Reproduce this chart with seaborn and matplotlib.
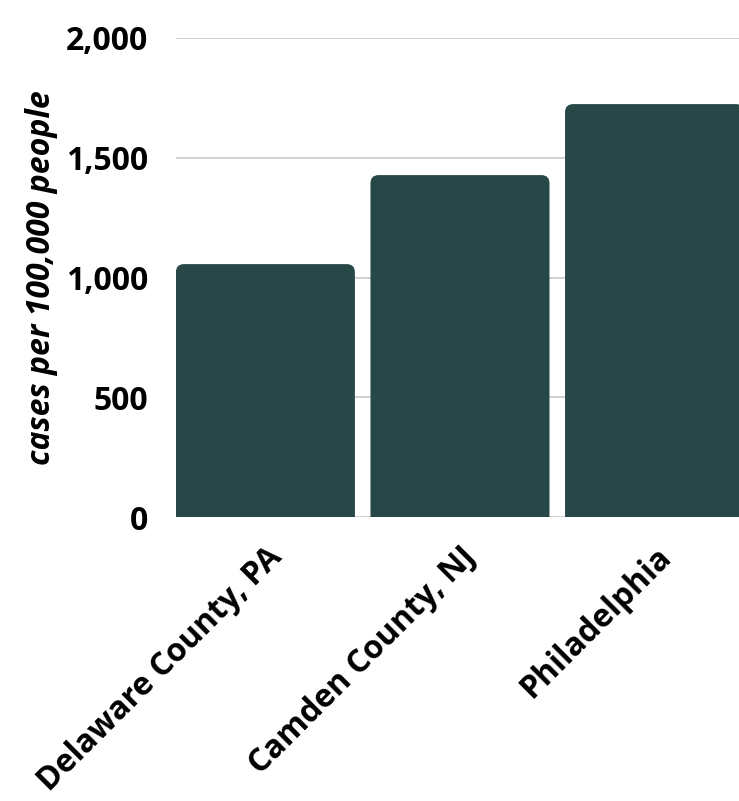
import numpy as np
import pandas as pd
import matplotlib
matplotlib.use('Agg')
import matplotlib.pyplot as plt
import matplotlib.transforms as mtransforms
from matplotlib.patches import FancyBboxPatch
import seaborn as sns

# данные
counties = ['Delaware County, PA', 'Camden County, NJ', 'Philadelphia']
cases = [1056, 1427, 1723]
y_ticks = [0, 500, 1000, 1500, 2000]
y_tick_labels = ['0', '500', '1,000', '1,500', '2,000']

bar_color = '#284848'

sns.set_theme(style='white')
plt.rcParams['font.family'] = ['Open Sans', 'DejaVu Sans']

df = pd.DataFrame({'county': counties, 'cases': cases})

fig = plt.figure(figsize=(7.39, 8.01), dpi=100)
ax = fig.add_axes([0.238, 0.354, 0.762, 0.599])

sns.barplot(data=df, x='county', y='cases', color=bar_color, width=0.92,
            saturation=1, ax=ax, zorder=3)

ax.set_xlim(-0.46, 2.434)
ax.set_ylim(0, 2000)

# пикселей на единицу по осям -> аспект для скругления
px_x = 0.762 * 739 / (2.434 + 0.46)
px_y = 0.599 * 801 / 2000
aspect = px_x / px_y

# скругляем углы, низ уходит под ось и обрезается
for p in list(ax.patches):
    x, y = p.get_x(), p.get_y()
    w, h = p.get_width(), p.get_height()
    p.remove()
    ax.add_patch(FancyBboxPatch((x, y - 100), w, h + 100,
                                boxstyle='round,pad=0,rounding_size=0.042',
                                mutation_aspect=aspect,
                                facecolor=bar_color, edgecolor='none', zorder=3))

ax.set_yticks(y_ticks)
ax.set_yticklabels(y_tick_labels, fontsize=23, fontweight='bold')
ax.yaxis.grid(True, color='#c8c8c8', linewidth=1.2, zorder=0)
ax.set_axisbelow(True)

ax.set_xticks(range(len(counties)))
ax.set_xticklabels(counties, rotation=45, ha='right', rotation_mode='anchor',
                   fontsize=23, fontweight='bold')
shift = mtransforms.ScaledTranslation(5 / 100, 0, fig.dpi_scale_trans)
for lab in ax.get_xticklabels():
    lab.set_transform(lab.get_transform() + shift)
ax.tick_params(axis='y', length=0, pad=20, colors='black')
ax.tick_params(axis='x', length=0, pad=17, colors='black')

ax.set_xlabel('')
ax.set_ylabel('cases per 100,000 people', fontsize=23, fontweight='bold',
              fontstyle='italic', labelpad=6, color='black')

for s in ax.spines.values():
    s.set_visible(False)

fig.savefig('out.png', dpi=100)
